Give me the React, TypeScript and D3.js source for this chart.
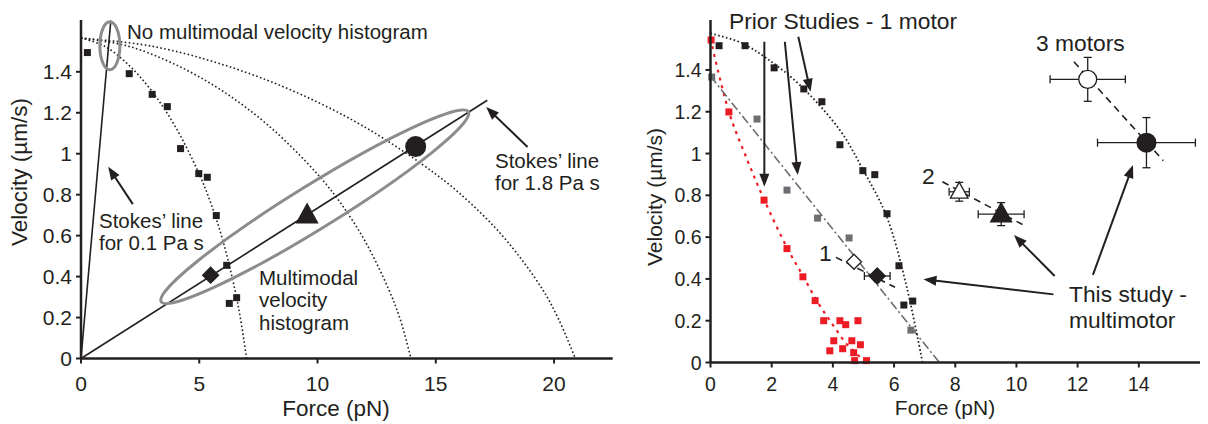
import React from 'react';
import * as d3 from 'd3';

const W = 1208;
const H = 424;
const FONT = "'Liberation Sans', Arial, Helvetica, sans-serif";
const INK = '#231f20';

// ---------- tick labels ----------
const leftXTicks = [0, 5, 10, 15, 20];
const rightXTicks = [0, 2, 4, 6, 8, 10, 12, 14];
const yTicks = [0, 0.2, 0.4, 0.6, 0.8, 1, 1.2, 1.4];

// ---------- prior studies, 1 motor (black squares) ----------
const leftPriorForce = [0.27, 2.04, 3.01, 3.65, 4.21, 4.98, 5.34, 5.72, 6.16, 6.58, 6.27];
const leftPriorVel = [1.494, 1.391, 1.29, 1.23, 1.025, 0.903, 0.885, 0.698, 0.455, 0.297, 0.269];
const rightPriorForce = [0.28, 1.13, 2.08, 3.05, 3.64, 4.23, 4.98, 5.37, 5.77, 6.16, 6.61, 6.32];
const rightPriorVel = [1.516, 1.516, 1.41, 1.309, 1.248, 1.042, 0.918, 0.899, 0.712, 0.463, 0.294, 0.275];

// red squares
const redForce = [0.02, 0.6, 1.75, 2.5, 3.02, 3.42, 3.7, 4.23, 4.42, 4.82, 4.03, 4.62, 4.9, 3.9, 4.32, 4.68, 4.71, 5.1];
const redVel = [1.543, 1.199, 0.777, 0.545, 0.41, 0.296, 0.2, 0.2, 0.181, 0.2, 0.104, 0.104, 0.085, 0.056, 0.066, 0.047, 0.009, 0.009];

// gray squares
const grayForce = [0.04, 1.52, 2.5, 3.5, 4.53, 6.55];
const grayVel = [1.366, 1.165, 0.825, 0.691, 0.596, 0.155];

// ---------- model curves ----------
const curveV = [1.565, 1.525, 1.435, 1.305, 1.13, 0.9, 0.755, 0.575, 0.34, 0.19, 0];
const curve1F = [0, 1, 2, 3, 4, 5, 5.5, 6, 6.5, 6.75, 7.0];
const curve2F = [0, 2, 4, 6, 8, 10, 11, 12, 13, 13.5, 13.95];
const curve3F = [0, 3, 6, 9, 12, 15, 16.5, 18, 19.5, 20.2, 20.9];

const rightCurveF = [0, 1, 1.84, 2.92, 4.23, 4.99, 5.76, 6.41, 6.93];
const rightCurveV = [1.575, 1.53, 1.455, 1.328, 1.112, 0.921, 0.698, 0.363, 0];

const redFitF = [0, 0.6, 1.2, 1.75, 2.5, 3.0, 3.5, 4.0, 4.5, 5.1];
const redFitV = [1.55, 1.2, 0.97, 0.78, 0.55, 0.42, 0.29, 0.18, 0.08, 0];

const grayFitF = [0, 7.48];
const grayFitV = [1.37, 0];

// Stokes lines
const stokesLowF = [0, 1.26];
const stokesLowV = [0, 1.65];
const stokesHighF = [0, 17.18];
const stokesHighV = [0, 1.261];

// ---------- this study (multimotor) ----------
const motorLabels = ['1', '2', '3'];
const predForce = [4.69, 8.13, 12.33];
const predVel = [0.482, 0.817, 1.355];
const measForce = [5.45, 9.5, 14.25];
const measVel = [0.414, 0.71, 1.052];
const measForceErr = [0.42, 0.75, 1.6];
const measVelErr = [0.02, 0.055, 0.12];
const predForceErr = [0, 0.33, 1.23];
const predVelErr = [0, 0.045, 0.105];
const linkStartF = [4.1, 7.58, 11.88];
const linkStartV = [0.503, 0.865, 1.439];
const linkEndF = [6.03, 10.2, 14.8];
const linkEndV = [0.36, 0.66, 0.966];

// left panel multimotor markers on the Stokes line
const leftMarkF = [5.48, 9.56, 14.15];
const leftMarkV = [0.407, 0.70, 1.035];

type Scale = d3.ScaleLinear<number, number>;

function Axes({ x, y, xTicks, tickSize, labelSize, xOff, yLabelX, yLabelY, xLabelX, xLabelY }: any) {
  const [x0, x1] = x.range();
  const [y0, y1] = y.range();
  return (
    <g>
      <line x1={x0} x2={x1} y1={y0} y2={y0} stroke={INK} strokeWidth={2.5} />
      <line x1={x0} x2={x0} y1={y0} y2={y1} stroke={INK} strokeWidth={2.5} />
      {xTicks.map((t: number) => (
        <g key={'x' + t}>
          <line x1={x(t)} x2={x(t)} y1={y0} y2={y0 + 5} stroke={INK} strokeWidth={2} />
          <text x={x(t)} y={y0 + xOff} textAnchor="middle" fontSize={tickSize} fontFamily={FONT} fill={INK}>{t}</text>
        </g>
      ))}
      {yTicks.map((t) => (
        <g key={'y' + t}>
          <line x1={x0 - 5} x2={x0} y1={y(t)} y2={y(t)} stroke={INK} strokeWidth={2} />
          <text x={x0 - 9} y={y(t) + tickSize * 0.36} textAnchor="end" fontSize={tickSize} fontFamily={FONT} fill={INK}>{t}</text>
        </g>
      ))}
      <text x={xLabelX} y={xLabelY} textAnchor="middle" fontSize={labelSize} fontFamily={FONT} fill={INK}>Force (pN)</text>
      <text transform={`translate(${yLabelX},${yLabelY}) rotate(-90)`} textAnchor="middle" fontSize={labelSize} fontFamily={FONT} fill={INK}>Velocity (µm/s)</text>
    </g>
  );
}

function pathOf(x: Scale, y: Scale, fs: number[], vs: number[], curve: any = d3.curveLinear) {
  const pts: [number, number][] = fs.map((f, i) => [f, vs[i]]);
  return d3.line<[number, number]>().x((d) => x(d[0])).y((d) => y(d[1])).curve(curve)(pts) || '';
}

function Arrow({ x1, y1, x2, y2 }: { x1: number; y1: number; x2: number; y2: number }) {
  const L = 13, Wd = 5;
  const dx = x2 - x1, dy = y2 - y1;
  const len = Math.hypot(dx, dy);
  const ux = dx / len, uy = dy / len;
  const bx = x2 - ux * L, by = y2 - uy * L;
  const p = `${x2},${y2} ${bx - uy * Wd},${by + ux * Wd} ${bx + uy * Wd},${by - ux * Wd}`;
  return (
    <g>
      <line x1={x1} y1={y1} x2={bx + ux * 2} y2={by + uy * 2} stroke={INK} strokeWidth={2} />
      <polygon points={p} fill={INK} />
    </g>
  );
}

function Square({ cx, cy, fill }: { cx: number; cy: number; fill: string }) {
  const s = 7;
  return <rect x={cx - s / 2} y={cy - s / 2} width={s} height={s} fill={fill} />;
}

function Triangle({ cx, cy, size, fill }: { cx: number; cy: number; size: number; fill: string }) {
  const h = size;
  const p = `${cx},${cy - h * 0.6} ${cx - h * 0.55},${cy + h * 0.4} ${cx + h * 0.55},${cy + h * 0.4}`;
  return <polygon points={p} fill={fill} stroke={INK} strokeWidth={1.3} />;
}

function Diamond({ cx, cy, size, fill }: { cx: number; cy: number; size: number; fill: string }) {
  const r = size / 2;
  const p = `${cx},${cy - r} ${cx + r},${cy} ${cx},${cy + r} ${cx - r},${cy}`;
  return <polygon points={p} fill={fill} stroke={INK} strokeWidth={1.3} />;
}

function ErrBars({ cx, cy, x, y, fe, ve, f, v }: any) {
  const cap = 4;
  const els = [];
  if (fe > 0) {
    const xa = x(f - fe), xb = x(f + fe);
    els.push(<line key="h" x1={xa} x2={xb} y1={cy} y2={cy} stroke={INK} strokeWidth={1.3} />);
    els.push(<line key="hl" x1={xa} x2={xa} y1={cy - cap} y2={cy + cap} stroke={INK} strokeWidth={1.3} />);
    els.push(<line key="hr" x1={xb} x2={xb} y1={cy - cap} y2={cy + cap} stroke={INK} strokeWidth={1.3} />);
  }
  if (ve > 0) {
    const ya = y(v - ve), yb = y(v + ve);
    els.push(<line key="v" x1={cx} x2={cx} y1={ya} y2={yb} stroke={INK} strokeWidth={1.3} />);
    els.push(<line key="vt" x1={cx - cap} x2={cx + cap} y1={ya} y2={ya} stroke={INK} strokeWidth={1.3} />);
    els.push(<line key="vb" x1={cx - cap} x2={cx + cap} y1={yb} y2={yb} stroke={INK} strokeWidth={1.3} />);
  }
  return <g>{els}</g>;
}

function LeftPanel() {
  const x = d3.scaleLinear().domain([0, 22.48]).range([81, 612.7]);
  const y = d3.scaleLinear().domain([0, 1.653]).range([358.5, 20]);
  const curves = [curve1F, curve2F, curve3F];
  // big ellipse along the 1.8 Pa s Stokes line
  const ex1 = x(3.39), ey1 = y(0.277), ex2 = x(16.38), ey2 = y(1.205);
  const ecx = (ex1 + ex2) / 2, ecy = (ey1 + ey2) / 2;
  const erx = Math.hypot(ex2 - ex1, ey2 - ey1) / 2;
  const eang = (Math.atan2(ey2 - ey1, ex2 - ex1) * 180) / Math.PI;
  return (
    <g>
      {curves.map((c, i) => (
        <path key={i} d={pathOf(x, y, c, curveV, d3.curveCatmullRom.alpha(0.5))} fill="none" stroke={INK} strokeWidth={1.6} strokeDasharray="1.6,2.4" />
      ))}
      {leftPriorForce.map((f, i) => (
        <Square key={i} cx={x(f)} cy={y(leftPriorVel[i])} fill={INK} />
      ))}
      <path d={pathOf(x, y, stokesLowF, stokesLowV)} stroke={INK} strokeWidth={1.6} fill="none" />
      <path d={pathOf(x, y, stokesHighF, stokesHighV)} stroke={INK} strokeWidth={1.6} fill="none" />
      <ellipse cx={x(1.22)} cy={y(1.527)} rx={10} ry={24} fill="none" stroke="#8c8c8c" strokeWidth={3} />
      <ellipse cx={ecx} cy={ecy} rx={erx} ry={22} transform={`rotate(${eang},${ecx},${ecy})`} fill="none" stroke="#8c8c8c" strokeWidth={3} />
      <Diamond cx={x(leftMarkF[0])} cy={y(leftMarkV[0])} size={16} fill={INK} />
      <Triangle cx={x(leftMarkF[1])} cy={y(leftMarkV[1])} size={19} fill={INK} />
      <circle cx={x(leftMarkF[2])} cy={y(leftMarkV[2])} r={10.5} fill={INK} />
      <Arrow x1={x(2.19)} y1={y(0.754)} x2={x(1.15)} y2={y(0.936)} />
      <Arrow x1={x(18.88)} y1={y(1.033)} x2={x(17.13)} y2={y(1.228)} />
      <g fontFamily={FONT} fontSize={20.5} fill={INK}>
        <text x={127} y={39}>No multimodal velocity histogram</text>
        <text x={99} y={228}>Stokes’ line</text>
        <text x={99} y={250}>for 0.1 Pa s</text>
        <text x={495} y={168}>Stokes’ line</text>
        <text x={495} y={190}>for 1.8 Pa s</text>
        <text x={259} y={285}>Multimodal</text>
        <text x={259} y={307}>velocity</text>
        <text x={259} y={330}>histogram</text>
      </g>
      <Axes x={x} y={y} xTicks={leftXTicks} tickSize={21} labelSize={22.5} xOff={32} xLabelX={336} xLabelY={416} yLabelX={27} yLabelY={172} />
    </g>
  );
}

function RightPanel() {
  const x = d3.scaleLinear().domain([0, 16.0]).range([710.5, 1200]);
  const y = d3.scaleLinear().domain([0, 1.639]).range([362.5, 20]);
  return (
    <g>
      <path d={pathOf(x, y, redFitF, redFitV, d3.curveCatmullRom.alpha(0.5))} fill="none" stroke="#ed1c24" strokeWidth={2.2} strokeDasharray="3,5" />
      <path d={pathOf(x, y, grayFitF, grayFitV)} fill="none" stroke="#6d6e71" strokeWidth={1.6} strokeDasharray="9,3,2,3" />
      <path d={pathOf(x, y, rightCurveF, rightCurveV, d3.curveCatmullRom.alpha(0.5))} fill="none" stroke={INK} strokeWidth={1.8} strokeDasharray="1.6,2.4" />
      {redForce.map((f, i) => (
        <Square key={'r' + i} cx={x(f)} cy={y(redVel[i])} fill="#ed1c24" />
      ))}
      {grayForce.map((f, i) => (
        <Square key={'g' + i} cx={x(f)} cy={y(grayVel[i])} fill="#6d6e71" />
      ))}
      {rightPriorForce.map((f, i) => (
        <Square key={'b' + i} cx={x(f)} cy={y(rightPriorVel[i])} fill={INK} />
      ))}
      {motorLabels.map((m, i) => (
        <g key={'m' + i}>
          <line x1={x(linkStartF[i])} y1={y(linkStartV[i])} x2={x(linkEndF[i])} y2={y(linkEndV[i])} stroke={INK} strokeWidth={1.6} strokeDasharray="7,5" />
          <ErrBars x={x} y={y} f={predForce[i]} v={predVel[i]} fe={predForceErr[i]} ve={predVelErr[i]} cx={x(predForce[i])} cy={y(predVel[i])} />
          <ErrBars x={x} y={y} f={measForce[i]} v={measVel[i]} fe={measForceErr[i]} ve={measVelErr[i]} cx={x(measForce[i])} cy={y(measVel[i])} />
        </g>
      ))}
      <Diamond cx={x(predForce[0])} cy={y(predVel[0])} size={15} fill="#ffffff" />
      <Diamond cx={x(measForce[0])} cy={y(measVel[0])} size={16} fill={INK} />
      <Triangle cx={x(predForce[1])} cy={y(predVel[1])} size={16} fill="#ffffff" />
      <Triangle cx={x(measForce[1])} cy={y(measVel[1])} size={19} fill={INK} />
      <circle cx={x(predForce[2])} cy={y(predVel[2])} r={9} fill="#ffffff" stroke={INK} strokeWidth={1.3} />
      <circle cx={x(measForce[2])} cy={y(measVel[2])} r={10} fill={INK} />
      <Arrow x1={x(1.76)} y1={y(1.535)} x2={x(1.76)} y2={y(0.841)} />
      <Arrow x1={x(2.43)} y1={y(1.535)} x2={x(2.85)} y2={y(0.897)} />
      <Arrow x1={x(2.87)} y1={y(1.559)} x2={x(3.27)} y2={y(1.296)} />
      <Arrow x1={x(11.21)} y1={y(0.326)} x2={x(6.96)} y2={y(0.398)} />
      <Arrow x1={x(11.25)} y1={y(0.414)} x2={x(9.92)} y2={y(0.61)} />
      <Arrow x1={x(12.5)} y1={y(0.419)} x2={x(13.81)} y2={y(0.945)} />
      <g fontFamily={FONT} fontSize={22.8} fill={INK}>
        <text x={729} y={29}>Prior Studies - 1 motor</text>
        <text x={1036} y={51}>3 motors</text>
        <text x={922} y={184}>{motorLabels[1]}</text>
        <text x={819} y={261}>{motorLabels[0]}</text>
        <text x={1069} y={302}>This study -</text>
        <text x={1069} y={328}>multimotor</text>
      </g>
      <Axes x={x} y={y} xTicks={rightXTicks} tickSize={19.5} labelSize={21} xOff={28} xLabelX={945} xLabelY={415} yLabelX={662} yLabelY={197} />
    </g>
  );
}

export default function App() {
  return (
    <svg width={W} height={H} viewBox={`0 0 ${W} ${H}`} style={{ position: 'absolute', left: 0, top: 0, background: '#fff' }}>
      <rect width={W} height={H} fill="#ffffff" />
      <LeftPanel />
      <RightPanel />
    </svg>
  );
}
